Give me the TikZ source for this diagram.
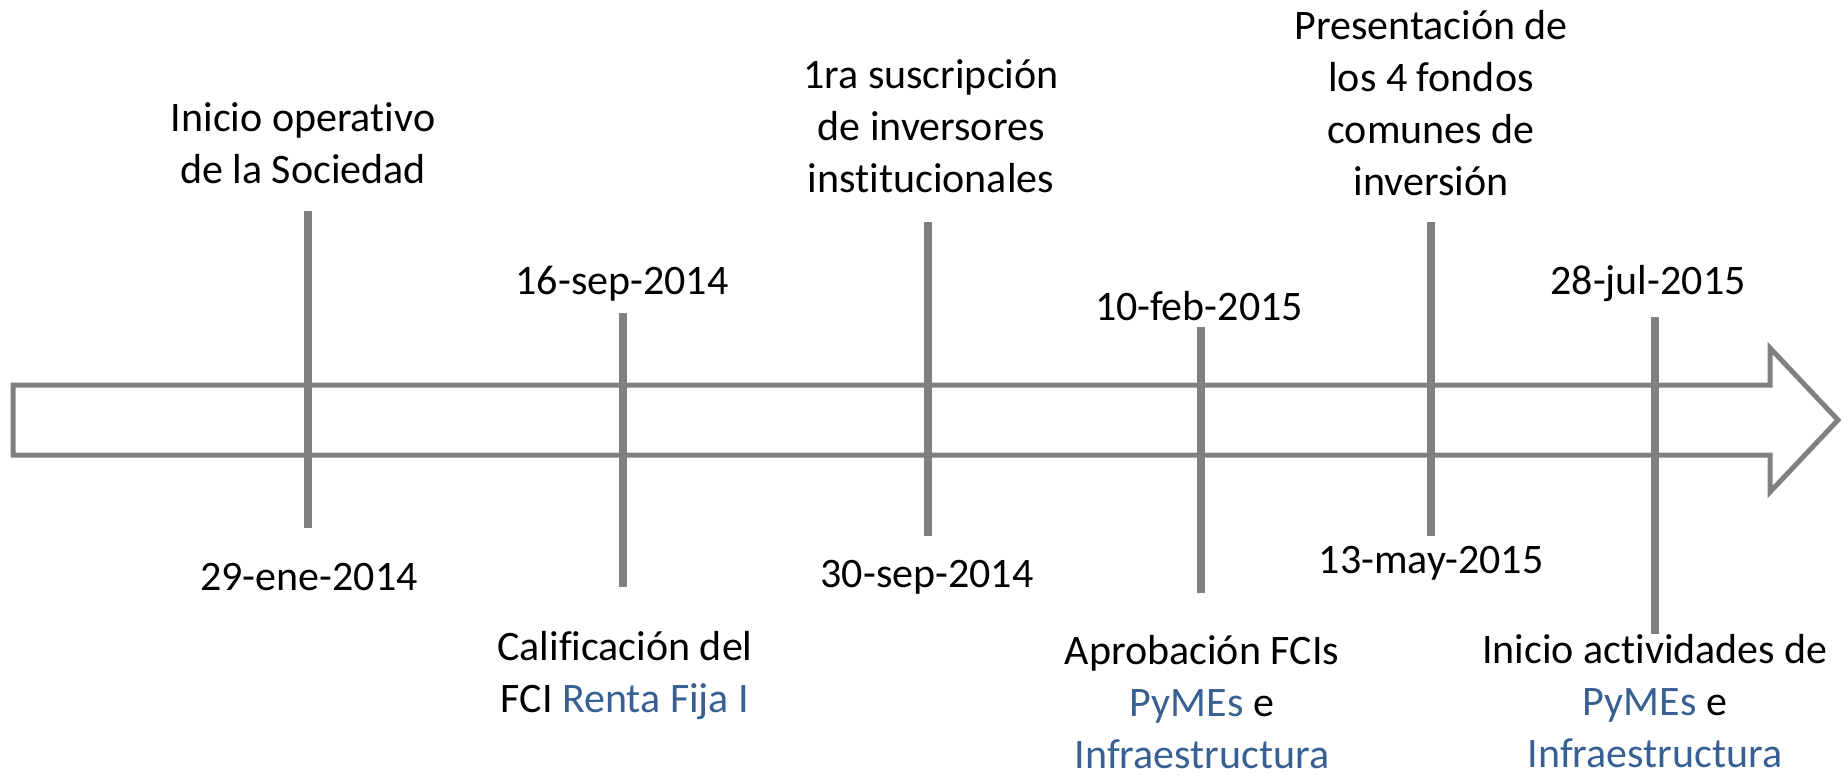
\documentclass[tikz,border=0pt]{standalone}
\usepackage{fontspec}
\setmainfont{Carlito}[Ligatures=NoCommon]
\usetikzlibrary{positioning}
\definecolor{linegray}{RGB}{128,128,128}
\definecolor{fciblue}{RGB}{56,96,146}
\newcommand{\hl}[1]{\textcolor{fciblue}{#1}}

\begin{document}
\begin{tikzpicture}[x=0.5pt,y=-0.5pt,
                    tick/.style={draw=linegray,line width=4pt},
                    label node/.style={align=center,inner sep=0pt,font=\fontsize{21}{26}\selectfont}]
  \useasboundingbox (0,0) rectangle (1848,778);
  % time arrow
  \draw[linegray,line width=2.5pt] (13,385) -- (1770,385) -- (1770,348) -- (1838,420)
        -- (1770,492) -- (1770,455) -- (13,455) -- cycle;
  % ticks
  \coordinate (1a) at (307.5,211);  \coordinate (1b) at (307.5,528);
  \coordinate (2a) at (623,313);    \coordinate (2b) at (623,587);
  \coordinate (3a) at (927.5,222);  \coordinate (3b) at (927.5,536);
  \coordinate (4a) at (1201,327);   \coordinate (4b) at (1201,593);
  \coordinate (5a) at (1431,222);   \coordinate (5b) at (1431,536);
  \coordinate (6a) at (1654.5,317); \coordinate (6b) at (1654.5,634);
  \draw[tick] (1a) -- (1b);
  \draw[tick] (2a) -- (2b);
  \draw[tick] (3a) -- (3b);
  \draw[tick] (4a) -- (4b);
  \draw[tick] (5a) -- (5b);
  \draw[tick] (6a) -- (6b);
  % labels
  \node[label node] (1t) at (303,143) {Inicio operativo\\de la Sociedad};
  \node[label node] (1d) at (309,577) {29-ene-2014};
  \node[label node] (2d) at (622,284) {16-sep-2014};
  \node[label node] (2t) at (625,676) {Calificación del\\FCI \hl{Renta Fija I}};
  \node[label node] (3t) at (931,126) {1ra suscripción\\de inversores\\institucionales};
  \node[label node] (3d) at (927,577) {30-sep-2014};
  \node[label node] (4d) at (1199,306) {10-feb-2015};
  \node[label node] (4t) at (1202,702) {Aprobación FCIs\\\hl{PyMEs} e\\\hl{Infraestructura}};
  \node[label node] (5t) at (1431,103) {Presentación de\\los 4 fondos\\comunes de\\inversión};
  \node[label node] (5d) at (1431,563) {13-may-2015};
  \node[label node] (6d) at (1648,284) {28-jul-2015};
  \node[label node] (6t) at (1655,701) {Inicio actividades de\\\hl{PyMEs} e\\\hl{Infraestructura}};
\end{tikzpicture}
\end{document}
